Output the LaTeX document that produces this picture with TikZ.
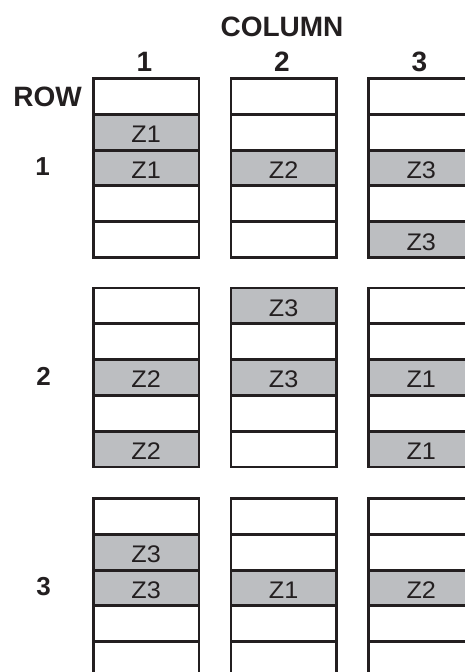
\documentclass[tikz,border=0pt]{standalone}
\usepackage{fontspec}
\setmainfont{Liberation Sans}
\definecolor{zgray}{RGB}{188,190,193}
\definecolor{ink}{RGB}{35,31,32}
\begin{document}
\begin{tikzpicture}[x=1pt,y=-1pt,
  slotbox/.style={draw=ink, line width=2.9pt, fill=white, minimum width=105.5pt,
    minimum height=35.8pt, inner sep=0pt, anchor=north west,
    font=\fontsize{24}{26}\selectfont, text height=21pt, text depth=0pt, text=ink},
  shaded/.style={slotbox, fill=zgray},
  headtxt/.style={font=\fontsize{28}{30}\selectfont\bfseries, text=ink, anchor=base, inner sep=0pt},
  rowtxt/.style={font=\fontsize{26}{28}\selectfont\bfseries, text=ink, anchor=base, inner sep=0pt}]
\useasboundingbox (0,0) rectangle (465,672);
\clip (0,0) rectangle (465,672);
% white slots
\foreach \g/\gy in {1/77,2/286.5,3/497}
  \foreach \c/\cx in {1/92,2/229.5,3/367}
    \foreach \k in {1,...,5}
      \node[slotbox] (s\g\c\k) at (\cx,{\gy+(\k-1)*35.8}) {};
% shaded slots
\foreach \g/\gy/\c/\cx/\k/\t in {
  1/77/1/92/2/Z1, 1/77/1/92/3/Z1, 1/77/2/229.5/3/Z2, 1/77/3/367/3/Z3, 1/77/3/367/5/Z3,
  2/286.5/1/92/3/Z2, 2/286.5/1/92/5/Z2, 2/286.5/2/229.5/1/Z3, 2/286.5/2/229.5/3/Z3,
  2/286.5/3/367/3/Z1, 2/286.5/3/367/5/Z1,
  3/497/1/92/2/Z3, 3/497/1/92/3/Z3, 3/497/2/229.5/3/Z1, 3/497/3/367/3/Z2}
  \node[shaded] (z\g\c\k) at (\cx,{\gy+(\k-1)*35.8}) {\scalebox{1.05}[1]{\t}};
% headings
\node[headtxt] (colhead) at (282,36) {COLUMN};
\node[headtxt] (c1) at (144.5,71) {1};
\node[headtxt] (c2) at (282,71) {2};
\node[headtxt] (c3) at (419.5,71) {3};
\node[headtxt] (rowhead) at (47.5,106) {ROW};
\node[rowtxt] (r1) at (42.5,175) {1};
\node[rowtxt] (r2) at (43.5,385) {2};
\node[rowtxt] (r3) at (43.5,595) {3};
\end{tikzpicture}
\end{document}
